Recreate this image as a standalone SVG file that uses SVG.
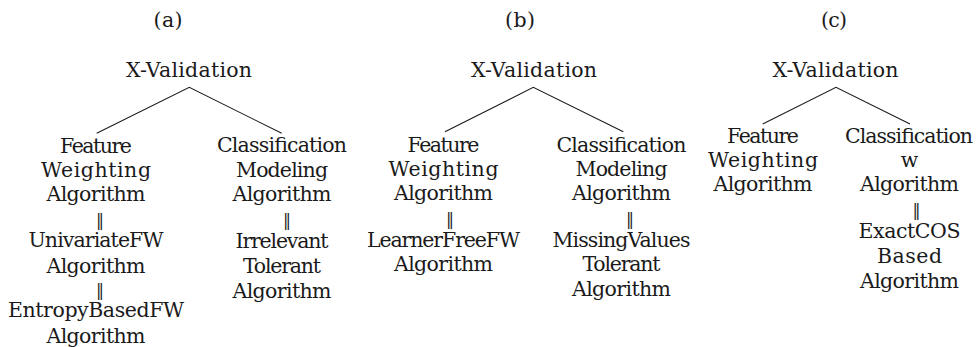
<svg xmlns="http://www.w3.org/2000/svg" width="977" height="347" viewBox="0 0 977 347">
<style>
.t{font-family:"DejaVu Serif",serif;font-size:20.5px;fill:#1a1a1a;text-anchor:middle}
.bar{font-size:16px}
.edge{stroke:#1a1a1a;stroke-width:1.1;fill:none}
</style>
<rect width="977" height="347" fill="#fff"/>
<g id="connectors">
<path class="edge" d="M96.7 133.3 L189.3 87.3 L281.7 133.3"/>
<path class="edge" d="M445 131.7 L533.3 87.3 L623.3 131.7"/>
<path class="edge" d="M762.7 124 L836 87.3 L910 124"/>
</g>
<g class="t">
<g id="label-a"><text x="168" y="26.5" textLength="29" lengthAdjust="spacing">(a)</text></g>
<g id="label-b"><text x="520" y="26.5" textLength="30" lengthAdjust="spacing">(b)</text></g>
<g id="label-c"><text x="834" y="26.5" textLength="26" lengthAdjust="spacing">(c)</text></g>
<g id="a-root"><text x="189" y="77" textLength="126" lengthAdjust="spacing">X-Validation</text></g>
<g id="a-left">
<text x="96" y="152.5" textLength="72" lengthAdjust="spacing">Feature</text>
<text x="96" y="176.5" textLength="110" lengthAdjust="spacing">Weighting</text>
<text x="96" y="200.5" textLength="99" lengthAdjust="spacing">Algorithm</text>
<text class="bar" x="100" y="225.5">‖</text>
<text x="96" y="247" textLength="135" lengthAdjust="spacing">UnivariateFW</text>
<text x="96" y="272.5" textLength="99" lengthAdjust="spacing">Algorithm</text>
<text class="bar" x="100" y="295.5">‖</text>
<text x="96" y="317" textLength="176" lengthAdjust="spacing">EntropyBasedFW</text>
<text x="96" y="343" textLength="99" lengthAdjust="spacing">Algorithm</text>
</g>
<g id="a-right">
<text x="282" y="152" textLength="130" lengthAdjust="spacing">Classification</text>
<text x="282" y="176.5" textLength="92" lengthAdjust="spacing">Modeling</text>
<text x="282" y="200.5" textLength="99" lengthAdjust="spacing">Algorithm</text>
<text class="bar" x="287" y="226">‖</text>
<text x="282" y="248" textLength="93" lengthAdjust="spacing">Irrelevant</text>
<text x="282" y="273" textLength="78" lengthAdjust="spacing">Tolerant</text>
<text x="282" y="298" textLength="99" lengthAdjust="spacing">Algorithm</text>
</g>
<g id="b-root"><text x="534" y="77" textLength="126" lengthAdjust="spacing">X-Validation</text></g>
<g id="b-left">
<text x="443.5" y="151.5" textLength="72" lengthAdjust="spacing">Feature</text>
<text x="443.5" y="175.5" textLength="110" lengthAdjust="spacing">Weighting</text>
<text x="443.5" y="199.5" textLength="99" lengthAdjust="spacing">Algorithm</text>
<text class="bar" x="450" y="225">‖</text>
<text x="443.5" y="246.5" textLength="153" lengthAdjust="spacing">LearnerFreeFW</text>
<text x="443.5" y="271" textLength="99" lengthAdjust="spacing">Algorithm</text>
</g>
<g id="b-right">
<text x="621.5" y="151.5" textLength="130" lengthAdjust="spacing">Classification</text>
<text x="621.5" y="175.5" textLength="92" lengthAdjust="spacing">Modeling</text>
<text x="621.5" y="199.5" textLength="99" lengthAdjust="spacing">Algorithm</text>
<text class="bar" x="630" y="225">‖</text>
<text x="621.5" y="246.5" textLength="138" lengthAdjust="spacing">MissingValues</text>
<text x="621.5" y="271" textLength="78" lengthAdjust="spacing">Tolerant</text>
<text x="621.5" y="296" textLength="99" lengthAdjust="spacing">Algorithm</text>
</g>
<g id="c-root"><text x="835.5" y="77" textLength="126" lengthAdjust="spacing">X-Validation</text></g>
<g id="c-left">
<text x="763" y="142.5" textLength="72" lengthAdjust="spacing">Feature</text>
<text x="763" y="166.5" textLength="110" lengthAdjust="spacing">Weighting</text>
<text x="763" y="191" textLength="99" lengthAdjust="spacing">Algorithm</text>
</g>
<g id="c-right">
<text x="909" y="142.5" textLength="128" lengthAdjust="spacing">Classification</text>
<text x="909.5" y="166.5">w</text>
<text x="909.5" y="191" textLength="99" lengthAdjust="spacing">Algorithm</text>
<text class="bar" x="916.5" y="216">‖</text>
<text x="909.5" y="238" textLength="102" lengthAdjust="spacing">ExactCOS</text>
<text x="909.5" y="263" textLength="65" lengthAdjust="spacing">Based</text>
<text x="909.5" y="288" textLength="99" lengthAdjust="spacing">Algorithm</text>
</g>
</g>
</svg>
